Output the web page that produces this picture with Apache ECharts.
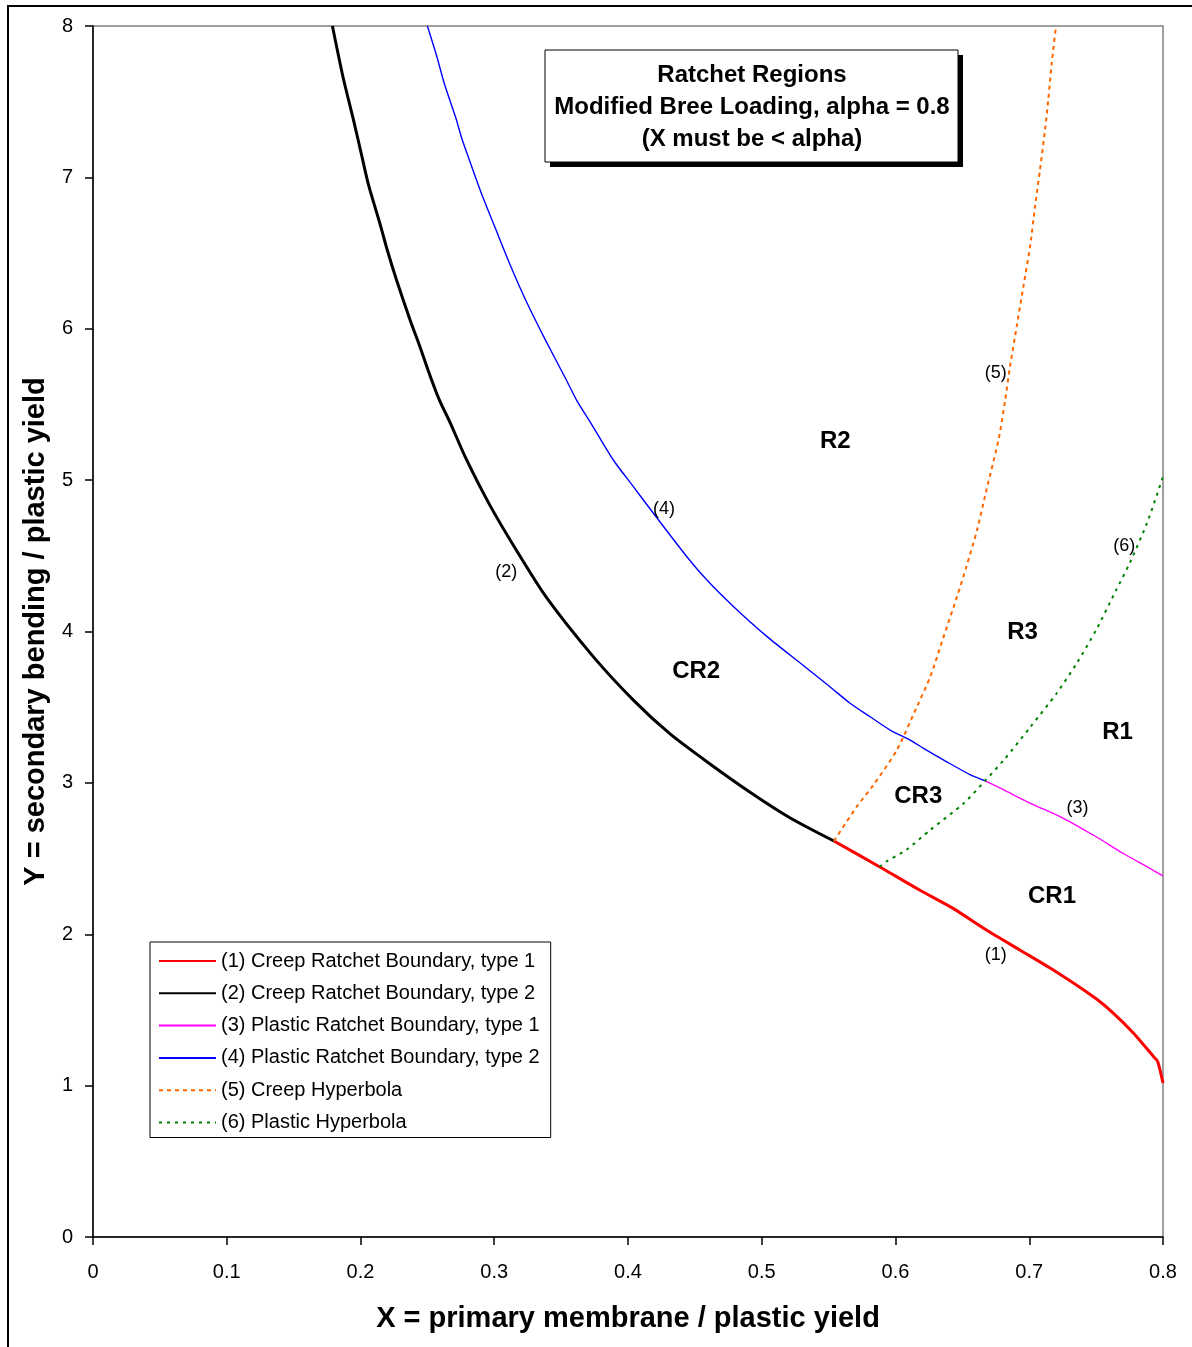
<!DOCTYPE html>
<html><head><meta charset="utf-8">
<script src="https://cdn.jsdelivr.net/npm/echarts@6/dist/echarts.min.js"></script>
<style>html,body{margin:0;padding:0;background:#fff}#c{width:1192px;height:1347px}</style>
</head><body><div id="c"></div>
<script>
// ---- data ----
const seriesNames = [
  '(1) Creep Ratchet Boundary, type 1',
  '(2) Creep Ratchet Boundary, type 2',
  '(3) Plastic Ratchet Boundary, type 1',
  '(4) Plastic Ratchet Boundary, type 2',
  '(5) Creep Hyperbola',
  '(6) Plastic Hyperbola'
];
const creepType1 = [[0.554,2.616],[0.588,2.446],[0.618,2.292],[0.643,2.171],[0.668,2.028],[0.693,1.896],[0.718,1.764],[0.748,1.587],[0.763,1.478],[0.778,1.346],[0.793,1.191],[0.796,1.160],[0.800,1.017]];
const creepType2 = [[0.179,8.0],[0.187,7.660],[0.195,7.370],[0.201,7.140],[0.206,6.950],[0.215,6.680],[0.220,6.520],[0.227,6.320],[0.237,6.060],[0.2445,5.880],[0.252,5.690],[0.259,5.529],[0.267,5.380],[0.279,5.140],[0.297,4.830],[0.317,4.530],[0.339,4.225],[0.374,3.834],[0.404,3.547],[0.431,3.327],[0.459,3.140],[0.491,2.940],[0.521,2.770],[0.554,2.616]];
const plasticType1 = [[0.667,3.014],[0.681,2.953],[0.701,2.865],[0.7255,2.766],[0.750,2.644],[0.770,2.535],[0.790,2.436],[0.800,2.385]];
const plasticType2 = [[0.250,8.0],[0.257,7.800],[0.263,7.610],[0.271,7.400],[0.276,7.250],[0.282,7.100],[0.291,6.880],[0.301,6.660],[0.312,6.420],[0.324,6.180],[0.338,5.930],[0.354,5.660],[0.3615,5.529],[0.372,5.380],[0.389,5.133],[0.404,4.957],[0.419,4.781],[0.444,4.494],[0.459,4.340],[0.479,4.164],[0.504,3.966],[0.529,3.790],[0.551,3.635],[0.566,3.526],[0.581,3.437],[0.596,3.349],[0.611,3.283],[0.621,3.228],[0.638,3.141],[0.656,3.053],[0.667,3.014]];
const creepHyperbola = [[0.554,2.616],[0.571,2.843],[0.583,2.980],[0.601,3.217],[0.616,3.503],[0.626,3.701],[0.636,3.966],[0.646,4.230],[0.653,4.428],[0.661,4.671],[0.668,4.935],[0.677,5.265],[0.682,5.529],[0.6856,5.749],[0.6906,6.014],[0.6956,6.278],[0.7006,6.542],[0.7043,6.806],[0.708,7.049],[0.7118,7.313],[0.7142,7.511],[0.7168,7.754],[0.720,8.0]];
const plasticHyperbola = [[0.588,2.446],[0.593,2.479],[0.608,2.557],[0.626,2.689],[0.651,2.865],[0.667,3.014],[0.681,3.151],[0.701,3.371],[0.7205,3.592],[0.7355,3.790],[0.750,4.010],[0.765,4.274],[0.775,4.450],[0.788,4.715],[0.800,5.023]];
const regionLabels = [['R2',0.555,5.258],['R3',0.695,3.997],['R1',0.766,3.336],['CR2',0.451,3.739],['CR3',0.617,2.913],['CR1',0.717,2.253]];
const curveLabels = [['(1)',0.675,1.863],['(2)',0.309,4.393],['(3)',0.736,2.834],['(4)',0.427,4.809],['(5)',0.675,5.708],['(6)',0.771,4.565]];
const titleLines = ['Ratchet Regions','Modified Bree Loading, alpha = 0.8','(X must be < alpha)'];
const xAxisTitle = 'X = primary membrane / plastic yield';
const yAxisTitle = 'Y = secondary bending / plastic yield';

// ---- chart ----
const FONT = '"Liberation Sans", Arial, sans-serif';
const chart = echarts.init(document.getElementById('c'), null, {renderer:'canvas'});
const lineSeries = (name, data, color, width, type) => ({
  name, type:'line', data, symbol:'none', smooth:0.25, silent:true,
  lineStyle:{color, width, type}, itemStyle:{color}
});
const textSeries = (data, size, weight) => ({
  type:'scatter', data: data.map(d => ({value:[d[1], d[2]], name:d[0]})),
  symbolSize:0, itemStyle:{color:'#000', opacity:1}, silent:true, z:5,
  label:{show:true, formatter:p => p.name, position:[0,0], align:'center', verticalAlign:'middle',
    color:'#000', opacity:1, textBorderWidth:0, fontFamily:FONT, fontSize:size, fontWeight:weight}
});
chart.setOption({
  animation:false,
  backgroundColor:'#fff',
  grid:{left:93, top:26, right:29, bottom:110, show:true, borderColor:'#808080', borderWidth:1.5, backgroundColor:'transparent'},
  xAxis:{type:'value', min:0, max:0.8, interval:0.1,
    name:xAxisTitle, nameLocation:'middle', nameGap:67,
    nameTextStyle:{fontFamily:FONT, fontSize:29, fontWeight:'bold', color:'#000'},
    axisLine:{show:true, onZero:false, lineStyle:{color:'#000', width:1.5}},
    axisTick:{show:true, length:8, lineStyle:{color:'#000', width:1.5}},
    axisLabel:{margin:25, fontFamily:FONT, fontSize:20, color:'#000', formatter:v => String(+v.toFixed(1))},
    splitLine:{show:false}},
  yAxis:{type:'value', min:0, max:8, interval:1,
    name:yAxisTitle, nameLocation:'middle', nameGap:42,
    nameTextStyle:{fontFamily:FONT, fontSize:29, fontWeight:'bold', color:'#000'},
    axisLine:{show:true, onZero:false, lineStyle:{color:'#000', width:1.5}},
    axisTick:{show:true, length:8, lineStyle:{color:'#000', width:1.5}},
    axisLabel:{margin:20, fontFamily:FONT, fontSize:20, color:'#000'},
    splitLine:{show:false}},
  legend:{data:seriesNames, orient:'vertical', left:150, top:942,
    itemWidth:57, itemHeight:12, itemGap:12.3,
    itemStyle:{opacity:0},
    padding:[9,11,5,8], borderColor:'#000', borderWidth:1, backgroundColor:'#fff',
    textStyle:{fontFamily:FONT, fontSize:20, color:'#000', lineHeight:20},
    selectedMode:false},
  series:[
    lineSeries(seriesNames[0], creepType1, '#ff0000', 3, 'solid'),
    lineSeries(seriesNames[1], creepType2, '#000000', 3, 'solid'),
    lineSeries(seriesNames[2], plasticType1, '#ff00ff', 1.4, 'solid'),
    lineSeries(seriesNames[3], plasticType2, '#0000ff', 1.4, 'solid'),
    lineSeries(seriesNames[4], creepHyperbola, '#ff6600', 2, [4,4]),
    lineSeries(seriesNames[5], plasticHyperbola, '#008000', 2, [3,5]),
    textSeries(regionLabels, 24, 'bold'),
    textSeries(curveLabels, 18, 'normal')
  ],
  graphic:[
    {type:'rect', silent:true, z:-10, shape:{x:8, y:6, width:1400, height:1500}, style:{fill:'none', stroke:'#000', lineWidth:2}},
    {type:'rect', silent:true, z:100, shape:{x:550, y:55, width:413, height:112}, style:{fill:'#000'}},
    {type:'rect', silent:true, z:101, shape:{x:545, y:50, width:413, height:112}, style:{fill:'#fff', stroke:'#000', lineWidth:1}},
    ...titleLines.map((t, i) => ({type:'text', silent:true, z:102, x:752, y:75 + i*32,
      style:{text:t, fill:'#000', font:'bold 24px ' + FONT, textAlign:'center', textVerticalAlign:'middle'}}))
  ]
});
</script></body></html>
